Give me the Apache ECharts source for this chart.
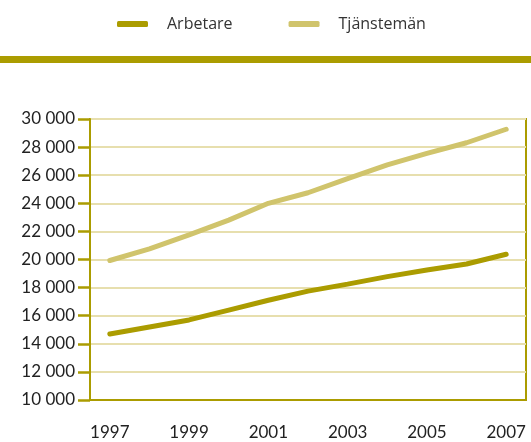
<!DOCTYPE html>
<html>
<head>
<meta charset="utf-8">
<script src="https://cdn.jsdelivr.net/npm/echarts@6/dist/echarts.min.js"></script>
<style>
  html, body { margin: 0; padding: 0; background: #fff; }
  #chart { width: 531px; height: 442px; }
</style>
</head>
<body>
<div id="chart"></div>
<script>
const years = ['1997', '1998', '1999', '2000', '2001', '2002', '2003', '2004', '2005', '2006', '2007']
const arbetare = [14700, 15200, 15700, 16400, 17100, 17750, 18250, 18780, 19250, 19680, 20370]
const tjansteman = [19930, 20750, 21750, 22800, 24000, 24750, 25750, 26730, 27550, 28310, 29270]

const dark = '#ab9c00'
const light = '#d0c46c'

const chart = echarts.init(document.getElementById('chart'))
chart.setOption({
  animation: false,
  legend: {
    top: 11,
    left: 112,
    itemWidth: 31,
    itemHeight: 6,
    itemGap: 56,
    icon: 'roundRect',
    textStyle: { fontFamily: 'Open Sans', fontSize: 16, color: '#333', padding: [0, 0, 0, 14] },
    data: ['Arbetare', 'Tjänstemän']
  },
  graphic: [{
    type: 'rect',
    shape: { x: 0, y: 56, width: 531, height: 7 },
    style: { fill: dark }
  }],
  grid: {
    left: 90,
    right: 5,
    top: 119,
    bottom: 42,
    show: true,
    borderColor: dark,
    borderWidth: 2
  },
  xAxis: {
    type: 'category',
    data: years,
    boundaryGap: true,
    axisLine: { lineStyle: { color: dark, width: 2 } },
    axisTick: { interval: 0, length: 11, lineStyle: { color: dark, width: 2.5 } },
    axisLabel: { interval: 1, margin: 24, fontFamily: 'Lato', fontSize: 17, color: '#222' }
  },
  yAxis: {
    type: 'value',
    min: 10000,
    max: 30000,
    interval: 2000,
    axisLine: { show: true, lineStyle: { color: dark, width: 2 } },
    axisTick: { show: true, length: 12, lineStyle: { color: dark, width: 2.5 } },
    splitLine: { lineStyle: { color: '#e7dfae', width: 2 } },
    axisLabel: {
      margin: 15,
      fontFamily: 'Lato',
      fontSize: 17,
      color: '#222',
      formatter: v => String(v).replace(/\B(?=(\d{3})+(?!\d))/g, ' ')
    }
  },
  series: [{
    name: 'Arbetare',
    type: 'line',
    data: arbetare,
    symbol: 'none',
    itemStyle: { color: dark },
    lineStyle: { color: dark, width: 5, cap: 'round' }
  }, {
    name: 'Tjänstemän',
    type: 'line',
    data: tjansteman,
    symbol: 'none',
    itemStyle: { color: light },
    lineStyle: { color: light, width: 5, cap: 'round' }
  }]
})
</script>
</body>
</html>
